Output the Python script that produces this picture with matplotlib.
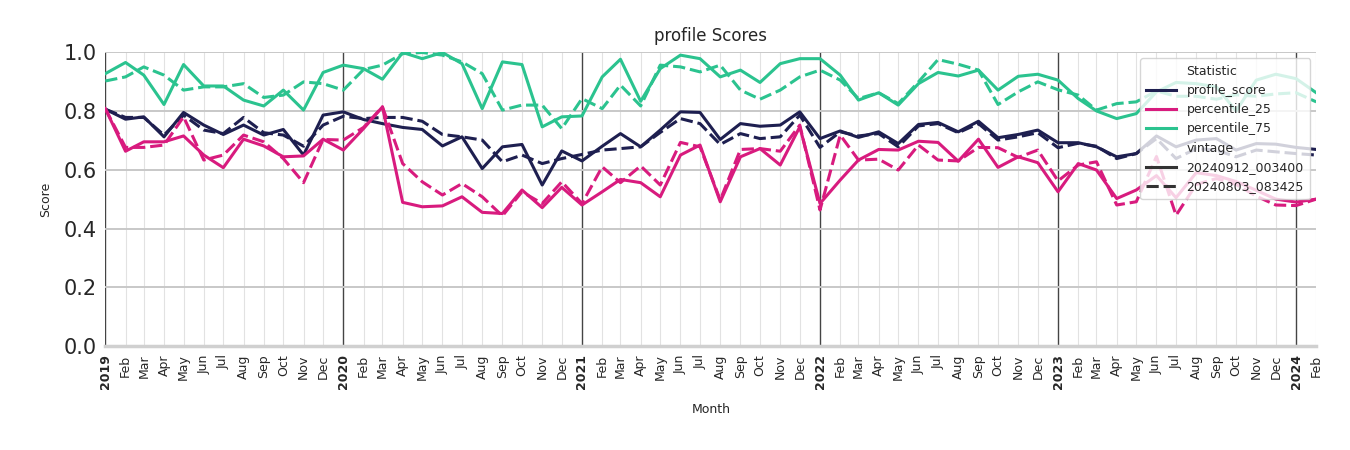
import numpy as np
import pandas as pd
import matplotlib
matplotlib.use("Agg")
import matplotlib.pyplot as plt
from matplotlib.lines import Line2D

# --- datos (Jan 2019 .. Feb 2024, mensual) ---
months = pd.date_range("2019-01-01", "2024-02-01", freq="MS")

profile_new = [
    0.806, 0.772, 0.780, 0.712, 0.795, 0.752, 0.720, 0.752, 0.718, 0.737, 0.650, 0.786,
    0.797, 0.771, 0.757, 0.744, 0.737, 0.681, 0.712, 0.604, 0.678, 0.686, 0.548, 0.664,
    0.630, 0.680, 0.723, 0.678, 0.735, 0.797, 0.795, 0.703, 0.757, 0.748, 0.752, 0.797,
    0.706, 0.732, 0.710, 0.729, 0.689, 0.754, 0.761, 0.729, 0.765, 0.709, 0.720, 0.735,
    0.692, 0.692, 0.678, 0.644, 0.655, 0.715, 0.678, 0.701, 0.706, 0.667, 0.689, 0.687,
    0.676, 0.669,
]
profile_old = [
    0.806, 0.778, 0.778, 0.718, 0.786, 0.735, 0.723, 0.778, 0.726, 0.718, 0.680, 0.752,
    0.782, 0.774, 0.778, 0.778, 0.765, 0.720, 0.712, 0.701, 0.627, 0.650, 0.621, 0.638,
    0.652, 0.667, 0.672, 0.678, 0.727, 0.774, 0.757, 0.686, 0.723, 0.706, 0.712, 0.786,
    0.676, 0.729, 0.715, 0.723, 0.678, 0.749, 0.757, 0.726, 0.757, 0.701, 0.712, 0.726,
    0.675, 0.690, 0.680, 0.638, 0.655, 0.706, 0.638, 0.672, 0.667, 0.644, 0.667, 0.661,
    0.655, 0.650,
]
p25_new = [
    0.808, 0.663, 0.695, 0.695, 0.715, 0.650, 0.607, 0.704, 0.681, 0.644, 0.647, 0.704,
    0.667, 0.740, 0.814, 0.489, 0.474, 0.477, 0.508, 0.455, 0.451, 0.531, 0.471, 0.540,
    0.480, 0.525, 0.567, 0.556, 0.508, 0.650, 0.684, 0.491, 0.644, 0.672, 0.616, 0.746,
    0.485, 0.565, 0.633, 0.669, 0.667, 0.697, 0.693, 0.629, 0.704, 0.608, 0.644, 0.624,
    0.525, 0.621, 0.599, 0.502, 0.531, 0.580, 0.505, 0.590, 0.580, 0.560, 0.530, 0.500,
    0.490, 0.500,
]
p25_old = [
    0.808, 0.676, 0.676, 0.684, 0.780, 0.633, 0.650, 0.718, 0.695, 0.638, 0.556, 0.703,
    0.701, 0.744, 0.814, 0.621, 0.559, 0.514, 0.553, 0.508, 0.443, 0.525, 0.485, 0.559,
    0.485, 0.610, 0.556, 0.613, 0.548, 0.693, 0.678, 0.497, 0.669, 0.672, 0.663, 0.752,
    0.463, 0.718, 0.633, 0.636, 0.599, 0.684, 0.633, 0.630, 0.676, 0.675, 0.642, 0.667,
    0.562, 0.616, 0.627, 0.480, 0.491, 0.645, 0.445, 0.550, 0.570, 0.550, 0.510, 0.480,
    0.478, 0.500,
]
p75_new = [
    0.927, 0.965, 0.922, 0.822, 0.958, 0.885, 0.885, 0.837, 0.817, 0.871, 0.803, 0.931,
    0.956, 0.944, 0.908, 0.999, 0.978, 0.999, 0.961, 0.808, 0.967, 0.958, 0.746, 0.780,
    0.783, 0.916, 0.976, 0.833, 0.944, 0.990, 0.978, 0.916, 0.939, 0.897, 0.961, 0.978,
    0.978, 0.922, 0.837, 0.862, 0.820, 0.893, 0.931, 0.919, 0.939, 0.871, 0.918, 0.925,
    0.905, 0.842, 0.800, 0.774, 0.791, 0.865, 0.897, 0.893, 0.882, 0.800, 0.905, 0.925,
    0.910, 0.862,
]
p75_old = [
    0.902, 0.916, 0.950, 0.922, 0.871, 0.882, 0.882, 0.893, 0.846, 0.854, 0.899, 0.893,
    0.871, 0.941, 0.956, 0.995, 0.999, 0.990, 0.967, 0.927, 0.803, 0.820, 0.820, 0.740,
    0.842, 0.808, 0.888, 0.817, 0.956, 0.950, 0.933, 0.956, 0.871, 0.840, 0.871, 0.916,
    0.939, 0.905, 0.842, 0.862, 0.825, 0.899, 0.975, 0.959, 0.939, 0.822, 0.865, 0.899,
    0.872, 0.854, 0.803, 0.825, 0.831, 0.868, 0.850, 0.850, 0.840, 0.855, 0.850, 0.858,
    0.862, 0.831,
]

vintages = ["20240912_003400", "20240803_083425"]
stats = ["profile_score", "percentile_25", "percentile_75"]
colores = {"profile_score": "#1e1f50", "percentile_25": "#d81b7e", "percentile_75": "#2bc38f"}
series = {
    ("profile_score", vintages[0]): profile_new,
    ("profile_score", vintages[1]): profile_old,
    ("percentile_25", vintages[0]): p25_new,
    ("percentile_25", vintages[1]): p25_old,
    ("percentile_75", vintages[0]): p75_new,
    ("percentile_75", vintages[1]): p75_old,
}

fig = plt.figure(figsize=(13.5, 4.5), dpi=100)
ax = fig.add_axes([0.078, 0.231, 0.897, 0.653])

# --- lineas ---
for st in stats:
    for v in vintages:
        kw = dict(color=colores[st], linewidth=2.2, zorder=3)
        if v == vintages[1]:
            kw["dashes"] = (4, 1.6)
        ax.plot(months, series[(st, v)], **kw)

# --- ejes / rejilla ---
ax.set_ylim(0, 1.0)
ax.set_xlim(months[0], months[-1])
ax.set_yticks(np.arange(0, 1.01, 0.2))
ax.set_yticklabels([f"{t:.1f}" for t in np.arange(0, 1.01, 0.2)], fontsize=15, color="#262626")
ax.yaxis.grid(True, color="#c8c8c8", linewidth=1.4, zorder=0)

ax.set_xticks(months)
etiquetas = [str(d.year) if d.month == 1 else d.strftime("%b") for d in months]
ax.set_xticklabels(etiquetas, rotation=90, fontsize=9, color="#262626")
for lbl, d in zip(ax.get_xticklabels(), months):
    if d.month == 1:
        lbl.set_fontweight("bold")
for d in months:
    if d.month == 1:
        ax.axvline(d, color="#444444", linewidth=1.0, zorder=1)
    else:
        ax.axvline(d, color="#e2e2e2", linewidth=0.8, zorder=0)

ax.tick_params(axis="both", length=0, pad=6)
for s in ["top", "right", "left"]:
    ax.spines[s].set_visible(False)
ax.spines["bottom"].set_color("#d0d0d0")
ax.spines["bottom"].set_linewidth(2.5)

ax.set_title("profile Scores", fontsize=12, color="#262626", pad=8)
ax.set_xlabel("Month", fontsize=9, color="#262626", labelpad=10)
ax.set_ylabel("Score", fontsize=9, color="#262626", labelpad=8)

# --- leyenda estilo seaborn ---
vacio = Line2D([], [], linestyle="none")
handles = [vacio]
labels = ["Statistic"]
for st in stats:
    handles.append(Line2D([], [], color=colores[st], linewidth=2.2))
    labels.append(st)
handles.append(vacio)
labels.append("vintage")
handles.append(Line2D([], [], color="#333333", linewidth=2.2))
labels.append(vintages[0])
handles.append(Line2D([], [], color="#333333", linewidth=2.2, dashes=(4, 1.6)))
labels.append(vintages[1])
leg = ax.legend(handles, labels, loc="upper right",
                fontsize=9, frameon=True, framealpha=0.8, edgecolor="#cccccc",
                handlelength=2.4, labelspacing=0.5, borderpad=0.5)
for t in leg.get_texts():
    t.set_color("#262626")

fig.savefig("out.png", dpi=100)
